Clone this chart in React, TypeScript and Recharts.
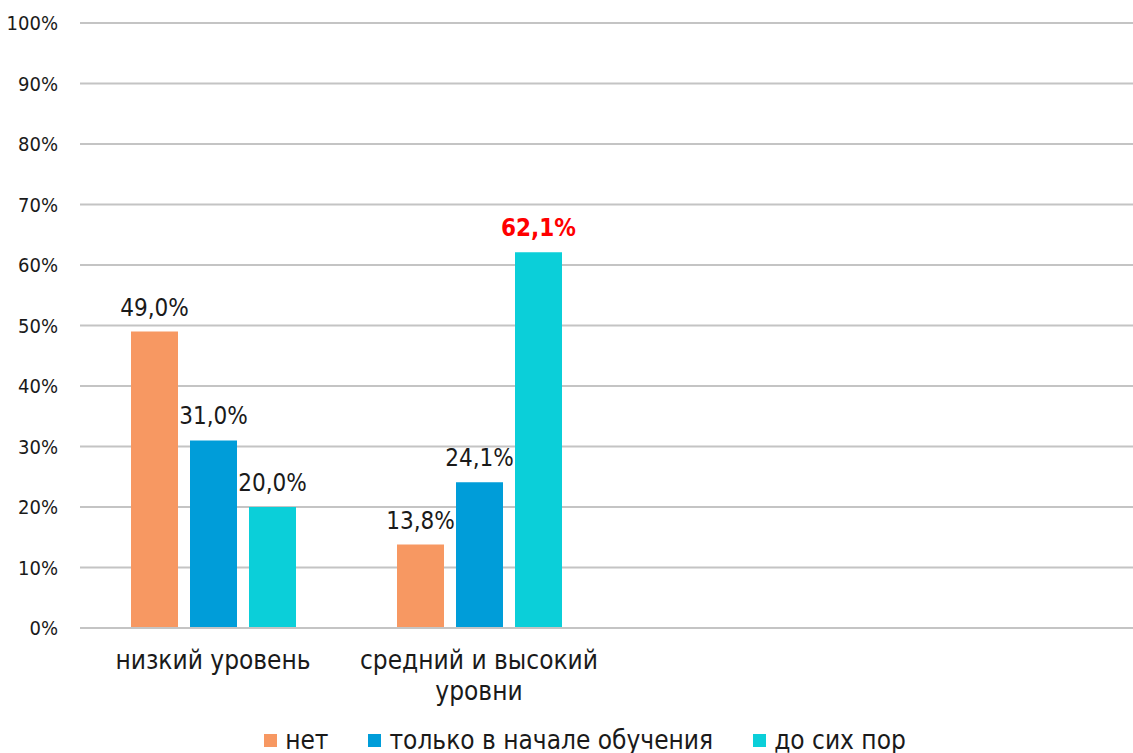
import React from "react";
import { BarChart, Bar, XAxis, YAxis, CartesianGrid, Legend, LabelList } from "recharts";

const categories = ["низкий уровень", "средний и высокий уровни", "", ""];
const categoryLines = [["низкий уровень"], ["средний и высокий", "уровни"], [""], [""]];
const seriesNames = ["нет", "только в начале обучения", "до сих пор"];
const netValues = [0.49, 0.138, null, null];
const startValues = [0.31, 0.241, null, null];
const stillValues = [0.2, 0.621, null, null];
const yTicks = [0, 0.1, 0.2, 0.3, 0.4, 0.5, 0.6, 0.7, 0.8, 0.9, 1];
const colors = ["#F79862", "#009DD9", "#0BCFD9"];

const data = categories.map((c, i) => ({
  name: c,
  net: netValues[i],
  start: startValues[i],
  still: stillValues[i],
}));

const FONT = "'DejaVu Sans Condensed', 'DejaVu Sans', sans-serif";
const STRETCH = "condensed";

const fmt = (v: any) =>
  v == null ? "" : (v * 100).toFixed(1).replace(".", ",") + "%";

const XTick = (props: any) => {
  const { x, y, index } = props;
  const lines = categoryLines[index] || [""];
  return (
    <text
      x={x}
      y={y + 33}
      textAnchor="middle"
      fontSize={26}
      fontFamily={FONT}
      style={{ fontStretch: STRETCH }}
      fill="#1a1a1a"
    >
      {lines.map((l, i) => (
        <tspan key={i} x={x} dy={i === 0 ? 0 : 31}>
          {l}
        </tspan>
      ))}
    </text>
  );
};

const LegendContent = () => (
  <div
    style={{
      display: "flex",
      justifyContent: "center",
      alignItems: "center",
      fontFamily: FONT,
      fontStretch: STRETCH,
      fontSize: 26,
      color: "#1a1a1a",
      gap: 40,
      marginTop: 12,
      paddingLeft: 26,
    }}
  >
    {seriesNames.map((n, i) => (
      <div key={n} style={{ display: "flex", alignItems: "center" }}>
        <span
          style={{
            display: "inline-block",
            width: 13,
            height: 13,
            background: colors[i],
            marginRight: 8,
          }}
        />
        <span>{n}</span>
      </div>
    ))}
  </div>
);

const ValueLabel = (props: any) => {
  const { x, y, width, value } = props;
  if (value == null) return null;
  const isMax = value === 0.621;
  return (
    <text
      x={x + width / 2}
      y={y - 16}
      textAnchor="middle"
      fontFamily={FONT}
      style={{ fontStretch: STRETCH }}
      fontSize={24}
      fontWeight={isMax ? "bold" : "normal"}
      fill={isMax ? "#FF0000" : "#1a1a1a"}
    >
      {fmt(value)}
    </text>
  );
};

export default function App() {
  return (
    <div
      style={{
        position: "absolute",
        left: 0,
        top: 0,
        width: 1133,
        height: 753,
        overflow: "hidden",
        background: "#fff",
      }}
    >
      <BarChart
        width={1150}
        height={753}
        data={data}
        margin={{ top: 23, right: 6, left: 0, bottom: 0 }}
        barSize={47}
        barGap={12}
      >
        <CartesianGrid vertical={false} stroke="#C4C4C4" strokeWidth={2} />
        <XAxis
          dataKey="name"
          axisLine={{ stroke: "#C4C4C4", strokeWidth: 2 }}
          tickLine={false}
          tick={<XTick />}
          height={85}
          interval={0}
        />
        <YAxis
          domain={[0, 1]}
          ticks={yTicks}
          tickFormatter={(v: number) => Math.round(v * 100) + "%"}
          axisLine={false}
          tickLine={false}
          tickSize={16}
          tickMargin={6}
          width={80}
          tick={{ fontSize: 20, fontFamily: FONT, fill: "#1a1a1a", style: { fontStretch: STRETCH } }}
        />
        <Legend verticalAlign="bottom" height={40} content={<LegendContent />} />
        <Bar dataKey="net" name={seriesNames[0]} fill={colors[0]} isAnimationActive={false}>
          <LabelList dataKey="net" content={<ValueLabel />} />
        </Bar>
        <Bar dataKey="start" name={seriesNames[1]} fill={colors[1]} isAnimationActive={false}>
          <LabelList dataKey="start" content={<ValueLabel />} />
        </Bar>
        <Bar dataKey="still" name={seriesNames[2]} fill={colors[2]} isAnimationActive={false}>
          <LabelList dataKey="still" content={<ValueLabel />} />
        </Bar>
      </BarChart>
    </div>
  );
}
